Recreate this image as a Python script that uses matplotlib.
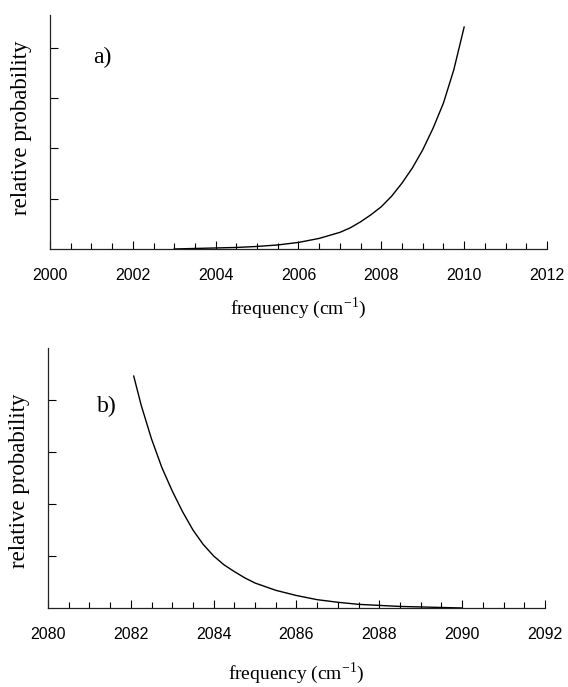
import matplotlib
matplotlib.use("Agg")
import matplotlib.pyplot as plt
from matplotlib.ticker import MultipleLocator

# panel a) values
freq_a = [2003.0, 2003.5, 2004.0, 2004.5, 2005.0, 2005.5, 2006.0, 2006.5,
          2007.0, 2007.25, 2007.5, 2007.75, 2008.0, 2008.25, 2008.5, 2008.75,
          2009.0, 2009.25, 2009.5, 2009.75, 2010.0]
prob_a = [0.0, 0.01, 0.02, 0.03, 0.05, 0.08, 0.13, 0.21,
          0.33, 0.42, 0.54, 0.68, 0.84, 1.05, 1.31, 1.61,
          1.97, 2.40, 2.90, 3.56, 4.41]

# panel b) values
freq_b = [2082.07, 2082.25, 2082.5, 2082.75, 2083.0, 2083.25, 2083.5, 2083.75,
          2084.0, 2084.25, 2084.5, 2084.75, 2085.0, 2085.5, 2086.0, 2086.5,
          2087.0, 2087.5, 2088.0, 2088.5, 2089.0, 2089.5, 2090.0]
prob_b = [4.46, 3.90, 3.25, 2.70, 2.25, 1.85, 1.50, 1.22,
          1.00, 0.83, 0.70, 0.58, 0.48, 0.34, 0.24, 0.16,
          0.11, 0.07, 0.05, 0.03, 0.02, 0.01, 0.0]

ticks_a = [2000, 2002, 2004, 2006, 2008, 2010, 2012]
ticks_b = [2080, 2082, 2084, 2086, 2088, 2090, 2092]

serif = ["Liberation Serif", "DejaVu Serif"]
sans = ["Liberation Sans", "DejaVu Sans"]

plt.rcParams["mathtext.fontset"] = "custom"
plt.rcParams["mathtext.rm"] = "Liberation Serif"

fig = plt.figure(figsize=(5.68, 6.87), dpi=100)
ax_a = fig.add_axes([0.088, 0.6376, 0.875, 0.3406])
ax_b = fig.add_axes([0.0845, 0.115, 0.875, 0.3784])


def style_axes(ax, x, y, ticks, ymax, label, label_pos, xlabel_y, ylabel_y):
    ax.plot(x, y, color="black", lw=1.0)
    ax.set_xlim(ticks[0], ticks[-1])
    ax.set_ylim(0, ymax)
    ax.set_xticks(ticks)
    ax.xaxis.set_minor_locator(MultipleLocator(0.5))
    ax.set_yticks([1, 2, 3, 4])
    ax.set_yticklabels([])
    for side in ["top", "right"]:
        ax.spines[side].set_visible(False)
    for side in ["left", "bottom"]:
        ax.spines[side].set_linewidth(0.9)
        ax.spines[side].set_color("#222222")
    ax.tick_params(axis="x", which="major", direction="in", length=6,
                   width=0.8, pad=14, labelsize=11.5)
    ax.tick_params(axis="x", which="minor", direction="in", length=4, width=0.8)
    ax.tick_params(axis="y", direction="in", length=6, width=0.8)
    for t in ax.get_xticklabels():
        t.set_family(sans)
    ax.set_xlabel("frequency (cm$^{-1}$)", family=serif, fontsize=14)
    ax.xaxis.set_label_coords(0.5, xlabel_y)
    ax.set_ylabel("relative probability", family=serif, fontsize=16.5)
    ax.yaxis.set_label_coords(-0.036, ylabel_y)
    ax.text(label_pos[0], label_pos[1], label, transform=ax.transAxes,
            family=serif, fontsize=17, ha="center", va="center")


style_axes(ax_a, freq_a, prob_a, ticks_a, 4.65, "a)", (0.105, 0.82), -0.197, 0.52)
style_axes(ax_b, freq_b, prob_b, ticks_b, 5.0, "b)", (0.119, 0.777), -0.2, 0.49)

fig.savefig("out.png", dpi=100)
